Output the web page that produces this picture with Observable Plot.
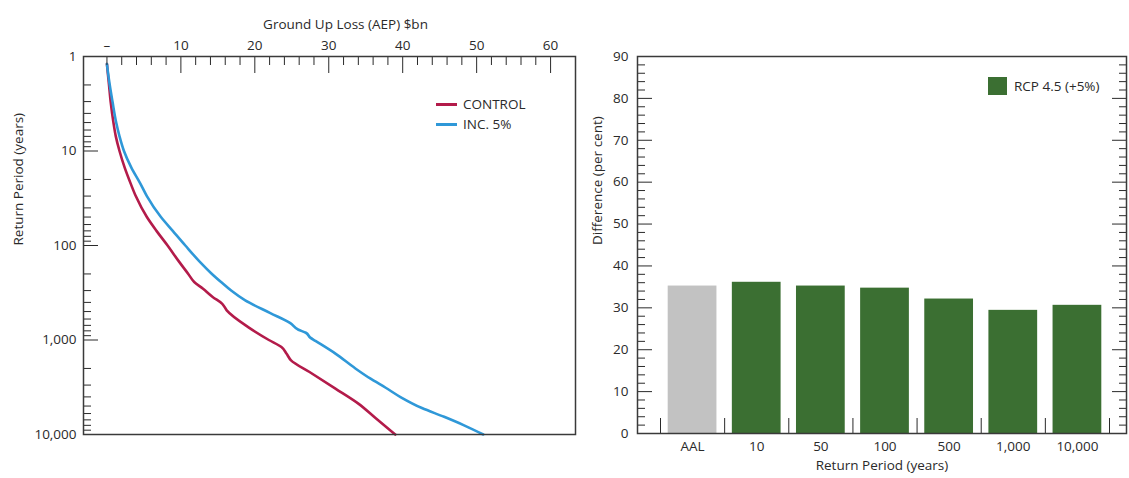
<!DOCTYPE html>
<html><head><meta charset="utf-8">
<script src="https://cdn.jsdelivr.net/npm/d3@7"></script>
<script src="https://cdn.jsdelivr.net/npm/@observablehq/plot@0.6"></script>
<style>
body{margin:0;background:#fff;font-family:"Open Sans",sans-serif;}
#wrap{position:relative;width:1129px;height:478px;display:flex;}
.leg{position:absolute;font-size:13.5px;color:#2a2a2a;display:flex;align-items:center;height:20px;white-space:nowrap;}
.leg .ln{width:21px;height:3px;margin-right:6px;}
.leg .sq{width:19px;height:18px;margin-right:7px;}
</style></head><body><div id="wrap"></div>
<script>
// ---- data ----
const controlReturnPeriods = [1.2, 1.5, 2, 3, 5, 7, 10, 15, 22, 30, 50, 70, 100, 150, 200, 243, 287, 350, 414, 486, 730, 1000, 1188, 1400, 1641, 2182, 3268, 4709, 6780, 10000];
const controlLoss          = [0.0, 0.12, 0.28, 0.5, 0.88, 1.2, 1.7, 2.4, 3.2, 3.9, 5.4, 6.7, 8.2, 9.8, 11.0, 11.8, 13.0, 14.3, 15.6, 16.2, 19.1, 21.9, 23.6, 24.3, 24.9, 27.4, 30.9, 34.0, 36.4, 39.0];
const incReturnPeriods     = [1.2, 1.5, 2, 3, 5, 7, 10, 15, 22, 30, 50, 70, 100, 150, 200, 250, 300, 381, 519, 662, 779, 838, 944, 1022, 1393, 2000, 2553, 3200, 4013, 5250, 6500, 8000, 10000];
const incLoss              = [0.0, 0.15, 0.38, 0.75, 1.25, 1.7, 2.3, 3.3, 4.5, 5.4, 7.3, 8.9, 10.6, 12.6, 14.2, 15.6, 16.8, 18.7, 22.1, 24.8, 25.9, 26.9, 27.5, 28.2, 30.9, 33.6, 35.6, 37.7, 39.7, 42.6, 45.6, 48.3, 50.9];
const lossTicks = [0, 10, 20, 30, 40, 50, 60];
const lossMinorTicks = [0, 2, 4, 6, 8, 12, 14, 16, 18, 22, 24, 26, 28, 32, 34, 36, 38, 42, 44, 46, 48, 52, 54, 56, 58];
const rpTicks = [1, 10, 100, 1000, 10000];
const rpMinorTicks = [2,3,4,5,6,7,8,9, 20,30,40,50,60,70,80,90, 200,300,400,500,600,700,800,900, 2000,3000,4000,5000,6000,7000,8000,9000];
const barCategories = ["AAL", "10", "50", "100", "500", "1,000", "10,000"];
const barValues = [35.2, 36.1, 35.2, 34.7, 32.1, 29.4, 30.6];
const diffTicks = [0, 10, 20, 30, 40, 50, 60, 70, 80, 90];
const diffMinorTicks = [2,4,6,8,12,14,16,18,22,24,26,28,32,34,36,38,42,44,46,48,52,54,56,58,62,64,66,68,72,74,76,78,82,84,86,88];
const seriesNames = ["CONTROL", "INC. 5%"];
const barLegend = "RCP 4.5 (+5%)";

const RED = "#b31b4a", BLUE = "#2f98d8", GREEN = "#3b6f32", GRAY = "#c2c2c2", INK = "#2a2a2a", FRAME = "#3a3a3a";

const controlData = controlReturnPeriods.map((rp, i) => ({rp, loss: controlLoss[i]}));
const incData = incReturnPeriods.map((rp, i) => ({rp, loss: incLoss[i]}));
const barData = barCategories.map((cat, i) => ({cat, value: barValues[i]}));

const font = {fontFamily: "Open Sans, sans-serif", fontSize: "13.5px", color: INK, background: "white", overflow: "visible"};

const left = Plot.plot({
  width: 580, height: 478,
  marginLeft: 83, marginRight: 5, marginTop: 56, marginBottom: 44,
  style: font,
  x: {domain: [-3.17, 63.37]},
  y: {type: "log", domain: [1, 10000], reverse: true},
  marks: [
    Plot.line(controlData, {x: "loss", y: "rp", stroke: RED, strokeWidth: 2.6, strokeLinejoin: "round", curve: "monotone-y"}),
    Plot.line(incData, {x: "loss", y: "rp", stroke: BLUE, strokeWidth: 2.6, strokeLinejoin: "round", curve: "monotone-y"}),
    Plot.axisX({ticks: lossMinorTicks, anchor: "top", tickSize: -8, fill: "none", stroke: INK, label: null}),
    Plot.axisX({ticks: lossTicks.slice(1), anchor: "top", tickSize: -16, fill: "none", stroke: INK, label: null}),
    Plot.axisX({ticks: lossTicks, anchor: "top", tickSize: 0, tickPadding: 7, tickFormat: d => d === 0 ? "–" : String(d), label: null}),
    Plot.axisY({ticks: rpMinorTicks, anchor: "left", tickSize: -8, fill: "none", stroke: INK, label: null}),
    Plot.axisY({ticks: rpTicks, anchor: "left", tickSize: -15, fill: "none", stroke: INK, label: null}),
    Plot.axisY({ticks: rpTicks, anchor: "left", tickSize: 0, tickPadding: 7, tickFormat: d3.format(","), label: null}),
    Plot.frame({stroke: FRAME, strokeWidth: 1.5}),
    Plot.text(["Ground Up Loss (AEP) $bn"], {text: d => d, frameAnchor: "top", dx: 16, dy: -37, fill: INK}),
    Plot.text(["Return Period (years)"], {text: d => d, frameAnchor: "left", rotate: -90, dx: -65, fill: INK})
  ]
});

const xRange = [80, 529];
const step = (xRange[1] - xRange[0]) / barCategories.length;

const right = Plot.plot({
  width: 549, height: 478,
  marginLeft: 57, marginRight: 3, marginTop: 56, marginBottom: 45,
  style: font,
  x: {domain: barCategories, range: xRange, paddingInner: 0.24, paddingOuter: 0.12, round: false},
  y: {domain: [0, 90]},
  marks: [
    Plot.barY(barData, {x: "cat", y: "value", fill: d => d.cat === "AAL" ? GRAY : GREEN}),
    Plot.axisY({ticks: diffMinorTicks, anchor: "left", tickSize: -8, fill: "none", stroke: INK, label: null}),
    Plot.axisY({ticks: diffTicks, anchor: "left", tickSize: -15, fill: "none", stroke: INK, label: null}),
    Plot.axisY({ticks: diffMinorTicks, anchor: "right", tickSize: -8, fill: "none", stroke: INK, label: null}),
    Plot.axisY({ticks: diffTicks, anchor: "right", tickSize: -15, fill: "none", stroke: INK, label: null}),
    Plot.axisY({ticks: diffTicks, anchor: "left", tickSize: 0, tickPadding: 9, label: null}),
    Plot.axisX({ticks: barCategories, anchor: "bottom", tickSize: -15, fill: "none", stroke: INK, dx: -step / 2, label: null}),
    Plot.axisX({ticks: barCategories.slice(-1), anchor: "bottom", tickSize: -15, fill: "none", stroke: INK, dx: step / 2, label: null}),
    Plot.axisX({ticks: barCategories, anchor: "bottom", tickSize: 0, tickPadding: 8, label: null}),
    Plot.frame({stroke: FRAME, strokeWidth: 1.5}),
    Plot.text(["Return Period (years)"], {text: d => d, frameAnchor: "bottom", dy: 36, fill: INK}),
    Plot.text(["Difference (per cent)"], {text: d => d, frameAnchor: "left", rotate: -90, dx: -40, fill: INK})
  ]
});

const wrap = document.getElementById("wrap");
wrap.appendChild(left);
wrap.appendChild(right);

function legendItem(x, y, color, label, cls) {
  const d = document.createElement("div");
  d.className = "leg";
  d.style.left = x + "px"; d.style.top = (y - 10) + "px";
  const m = document.createElement("span"); m.className = cls; m.style.background = color;
  const t = document.createElement("span"); t.textContent = label;
  d.appendChild(m); d.appendChild(t);
  wrap.appendChild(d);
}
legendItem(436, 104, RED, seriesNames[0], "ln");
legendItem(436, 124, BLUE, seriesNames[1], "ln");
legendItem(988, 86, GREEN, barLegend, "sq");
</script></body></html>
